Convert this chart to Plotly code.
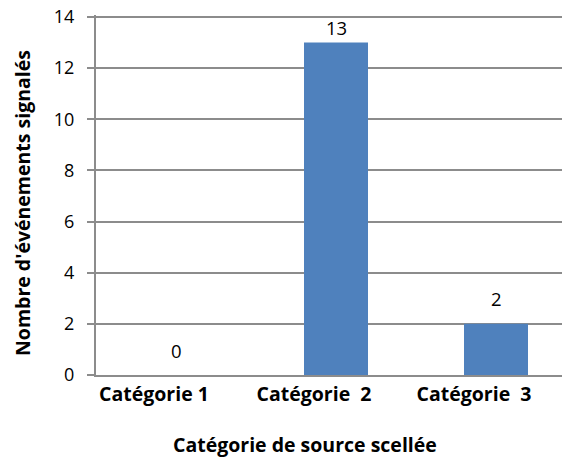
import plotly.graph_objects as go

categories = ["Catégorie 1", "Catégorie  2", "Catégorie  3"]
values = [0, 13, 2]
y_ticks = [0, 2, 4, 6, 8, 10, 12, 14]
x_title = "Catégorie de source scellée"
y_title = "Nombre d'événements signalés"

FONT = "Open Sans"
OFF = 8  # page body margin
W, H = 570 - OFF, 459 - OFF
Y_TOP_PX, Y_ZERO_PX = 17, 375
px_per_unit = (Y_ZERO_PX - Y_TOP_PX) / 14.0
EXTRA = 2  # px of headroom above 14 so the top gridline shows
ML, MT = 96 - OFF, Y_TOP_PX - EXTRA - OFF
MB = H - (Y_ZERO_PX - OFF)
plot_h = H - MT - MB
plot_w = W - ML
y_max = 14 + EXTRA / px_per_unit


def px_to_paper_x(px):
    return (px - OFF - ML) / plot_w


def px_to_paper_y(py):
    return (H - MB - (py - OFF)) / plot_h


fig = go.Figure()
fig.add_trace(go.Bar(
    x=categories, y=values,
    marker=dict(color="#4F81BD", line=dict(width=0)),
    width=0.4,
    hoverinfo="skip",
))

for c, v in zip(categories, values):
    top_px = Y_ZERO_PX - v * px_per_unit
    fig.add_annotation(
        x=c, y=v, xref="x", yref="y", text=str(v), showarrow=False,
        yanchor="middle", yshift=max(min(25, top_px - 28), 0),
        font=dict(family=FONT, size=18.5, color="#000000"),
    )

fig.add_annotation(
    x=px_to_paper_x(172), y=px_to_paper_y(444), xref="paper", yref="paper",
    text="<b>" + x_title + "</b>",
    showarrow=False, xanchor="left", yanchor="middle", borderpad=0,
    font=dict(family=FONT, size=19.5, color="#000000"),
)
fig.add_annotation(
    x=px_to_paper_x(23), y=px_to_paper_y(203), xref="paper", yref="paper",
    text="<b>" + y_title + "</b>", textangle=-90,
    showarrow=False, xanchor="center", yanchor="middle",
    font=dict(family=FONT, size=19.5, color="#000000"),
)

fig.update_layout(
    width=W, height=H,
    margin=dict(l=ML, r=0, t=MT, b=MB, pad=0, autoexpand=False),
    paper_bgcolor="white", plot_bgcolor="white",
    showlegend=False,
    font=dict(family=FONT, size=18.5, color="#000000"),
)

fig.update_xaxes(
    type="category",
    range=[-0.5, -0.5 + (570 - 96) / 160.0],
    showgrid=False, automargin=False,
    showline=True, linecolor="#8C8C8C", linewidth=2,
    ticks="", tickfont=dict(family=FONT, size=19.5, color="#000000", weight="bold"),
    ticklabelshift=-22,
    ticklabelstandoff=1,
)
fig.update_yaxes(
    range=[0, y_max], automargin=False,
    tickvals=y_ticks,
    showgrid=True, gridcolor="#8C8C8C", gridwidth=2,
    showline=True, linecolor="#8C8C8C", linewidth=2,
    ticks="outside", ticklen=7, tickcolor="#8C8C8C", tickwidth=2,
    ticklabelstandoff=9,
    ticklabeloverflow="allow",
    tickfont=dict(family=FONT, size=18, color="#000000"),
    zeroline=False,
)

fig.write_html("out.html")
